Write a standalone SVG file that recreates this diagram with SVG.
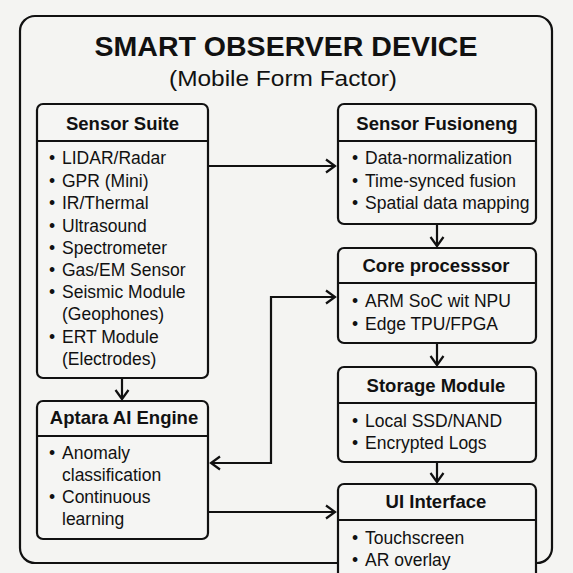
<svg xmlns="http://www.w3.org/2000/svg" width="573" height="573" viewBox="0 0 573 573">
<style>
.bg{fill:#f4f4f2}
.frame{fill:none;stroke:#111;stroke-width:2.2}
.box{fill:#f5f5f3;stroke:#111;stroke-width:2.2}
.div{stroke:#111;stroke-width:1.8}
.title{font-family:"Liberation Sans",Arial,sans-serif;font-weight:bold;fill:#111}
.bt{font-family:"Liberation Sans",Arial,sans-serif;font-weight:bold;font-size:18.5px;fill:#111;text-anchor:middle}
.it{font-family:"Liberation Sans",Arial,sans-serif;font-size:17.5px;fill:#111}
.sub{font-family:"Liberation Sans",Arial,sans-serif;font-size:22px;fill:#111}
.conn{fill:none;stroke:#111;stroke-width:2.2}
</style>
<defs>
<marker id="arr" markerUnits="userSpaceOnUse" markerWidth="14" markerHeight="16" viewBox="0 0 14 16" refX="11" refY="8" orient="auto-start-reverse">
<path d="M2,1.5 L11,8 L2,14.5" fill="none" stroke="#111" stroke-width="2.2"/>
</marker>
</defs>
<rect class="bg" x="0" y="0" width="573" height="573"/>
<rect class="frame" x="20" y="16" width="532" height="547" rx="15"/>
<text class="title" x="286" y="56" font-size="27.5" text-anchor="middle" textLength="383" lengthAdjust="spacingAndGlyphs">SMART OBSERVER DEVICE</text>
<text class="sub" x="283" y="86" text-anchor="middle" textLength="228" lengthAdjust="spacingAndGlyphs">(Mobile Form Factor)</text>

<g id="connectors">
<path class="conn" d="M208,166 H335" marker-end="url(#arr)"/>
<path class="conn" d="M437,224 V246" marker-end="url(#arr)"/>
<path class="conn" d="M437,343 V365" marker-end="url(#arr)"/>
<path class="conn" d="M437,462 V482" marker-end="url(#arr)"/>
<path class="conn" d="M122,378 V399" marker-end="url(#arr)"/>
<path class="conn" d="M211,463 H271 V297 H335" marker-start="url(#arr)" marker-end="url(#arr)"/>
<path class="conn" d="M208,512 H335" marker-end="url(#arr)"/>
</g>

<g id="sensor-suite">
<rect class="box" x="37" y="104" width="171" height="274" rx="6"/>
<line class="div" x1="37" y1="141" x2="208" y2="141"/>
<text class="bt" x="122.5" y="130">Sensor Suite</text>
<text class="it"><tspan x="49" y="164">•</tspan><tspan x="62" y="164">LIDAR/Radar</tspan></text>
<text class="it"><tspan x="49" y="186.5">•</tspan><tspan x="62" y="186.5">GPR (Mini)</tspan></text>
<text class="it"><tspan x="49" y="209">•</tspan><tspan x="62" y="209">IR/Thermal</tspan></text>
<text class="it"><tspan x="49" y="231.5">•</tspan><tspan x="62" y="231.5">Ultrasound</tspan></text>
<text class="it"><tspan x="49" y="253.5">•</tspan><tspan x="62" y="253.5">Spectrometer</tspan></text>
<text class="it"><tspan x="49" y="276">•</tspan><tspan x="62" y="276">Gas/EM Sensor</tspan></text>
<text class="it"><tspan x="49" y="298">•</tspan><tspan x="62" y="298">Seismic Module</tspan></text>
<text class="it" x="62" y="320">(Geophones)</text>
<text class="it"><tspan x="49" y="342.5">•</tspan><tspan x="62" y="342.5">ERT Module</tspan></text>
<text class="it" x="62" y="365">(Electrodes)</text>
</g>

<g id="aptara-ai-engine">
<rect class="box" x="37" y="401" width="171" height="138" rx="6"/>
<line class="div" x1="37" y1="436" x2="208" y2="436"/>
<text class="bt" x="124" y="424">Aptara AI Engine</text>
<text class="it"><tspan x="49" y="459">•</tspan><tspan x="62" y="459">Anomaly</tspan></text>
<text class="it" x="62" y="481">classification</text>
<text class="it"><tspan x="49" y="503">•</tspan><tspan x="62" y="503">Continuous</tspan></text>
<text class="it" x="62" y="525">learning</text>
</g>

<g id="sensor-fusion">
<rect class="box" x="338" y="104" width="198" height="120" rx="6"/>
<line class="div" x1="338" y1="141" x2="536" y2="141"/>
<text class="bt" x="437" y="130">Sensor Fusioneng</text>
<text class="it"><tspan x="352" y="164">•</tspan><tspan x="365" y="164">Data-normalization</tspan></text>
<text class="it"><tspan x="352" y="187">•</tspan><tspan x="365" y="187">Time-synced fusion</tspan></text>
<text class="it"><tspan x="352" y="209">•</tspan><tspan x="365" y="209">Spatial data mapping</tspan></text>
</g>

<g id="core-processor">
<rect class="box" x="338" y="248" width="198" height="95" rx="6"/>
<line class="div" x1="338" y1="283" x2="536" y2="283"/>
<text class="bt" x="436" y="272">Core processsor</text>
<text class="it"><tspan x="352" y="307">•</tspan><tspan x="365" y="307">ARM SoC wit NPU</tspan></text>
<text class="it"><tspan x="352" y="330">•</tspan><tspan x="365" y="330">Edge TPU/FPGA</tspan></text>
</g>

<g id="storage-module">
<rect class="box" x="338" y="367" width="198" height="95" rx="6"/>
<line class="div" x1="338" y1="403" x2="536" y2="403"/>
<text class="bt" x="436" y="392">Storage Module</text>
<text class="it"><tspan x="352" y="427">•</tspan><tspan x="365" y="427">Local SSD/NAND</tspan></text>
<text class="it"><tspan x="352" y="449">•</tspan><tspan x="365" y="449">Encrypted Logs</tspan></text>
</g>

<g id="ui-interface">
<rect class="box" x="338" y="484" width="198" height="110" rx="6"/>
<line class="div" x1="338" y1="520" x2="536" y2="520"/>
<text class="bt" x="436" y="508">UI Interface</text>
<text class="it"><tspan x="352" y="544">•</tspan><tspan x="365" y="544">Touchscreen</tspan></text>
<text class="it"><tspan x="352" y="566">•</tspan><tspan x="365" y="566">AR overlay</tspan></text>
</g>
</svg>
